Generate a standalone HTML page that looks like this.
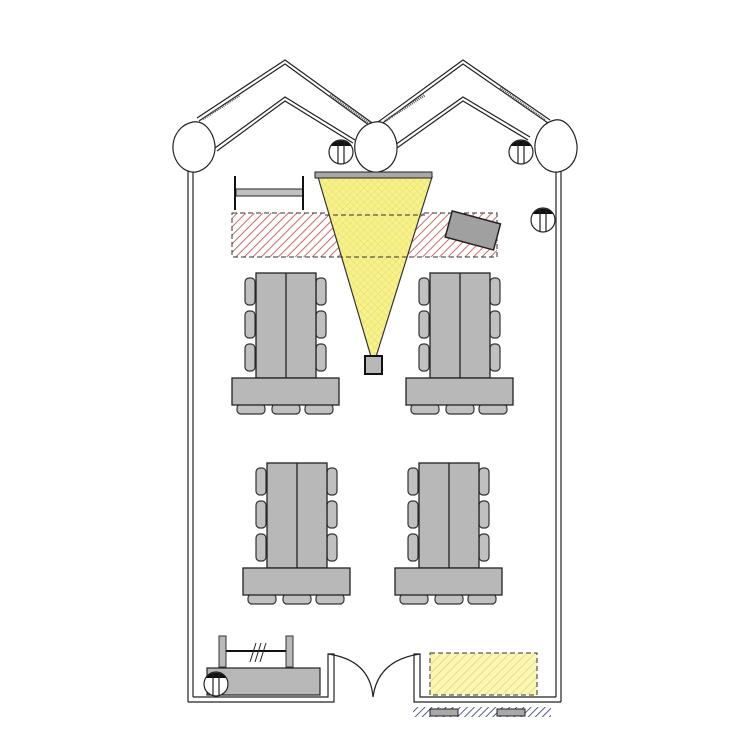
<!DOCTYPE html>
<html><head><style>html,body{margin:0;padding:0;background:#fff}svg{display:block}</style></head>
<body>
<svg width="750" height="750" viewBox="0 0 750 750" xmlns="http://www.w3.org/2000/svg">
<defs>
<pattern id="red" width="6" height="6" patternUnits="userSpaceOnUse" patternTransform="rotate(45)">
<rect width="6" height="6" fill="#fff"/><line x1="0" y1="0" x2="0" y2="6" stroke="#cc6a6a" stroke-width="2"/></pattern>
<pattern id="yel" width="5" height="5" patternUnits="userSpaceOnUse" patternTransform="rotate(45)">
<rect width="5" height="5" fill="#f8f28a"/><line x1="0" y1="0" x2="0" y2="5" stroke="#e6dc78" stroke-width="1"/><line x1="0" y1="0" x2="5" y2="0" stroke="#e6dc78" stroke-width="1"/></pattern>
<pattern id="yel2" width="6" height="6" patternUnits="userSpaceOnUse" patternTransform="rotate(45)">
<rect width="6" height="6" fill="#fbf6b0"/><line x1="0" y1="0" x2="0" y2="6" stroke="#ddd088" stroke-width="1.4"/></pattern>
<pattern id="blue" width="5" height="5" patternUnits="userSpaceOnUse" patternTransform="rotate(45)">
<rect width="5" height="5" fill="#fff"/><line x1="0" y1="0" x2="0" y2="5" stroke="#404a80" stroke-width="1.8"/></pattern>
<g id="chairV"><rect x="0" y="0" width="10" height="27" rx="4" fill="#c0c0c0" stroke="#333" stroke-width="1.2"/></g>
<g id="chairH"><rect x="0" y="0" width="28" height="10" rx="4" fill="#c0c0c0" stroke="#333" stroke-width="1.2"/></g>
<g id="tbl">
<use href="#chairV" x="13" y="5"/><use href="#chairV" x="13" y="38"/><use href="#chairV" x="13" y="71"/>
<use href="#chairV" x="84" y="5"/><use href="#chairV" x="84" y="38"/><use href="#chairV" x="84" y="71"/>
<use href="#chairH" x="5" y="131"/><use href="#chairH" x="40" y="131"/><use href="#chairH" x="73" y="131"/>
<rect x="24" y="0" width="60" height="105" fill="#b8b8b8" stroke="#222" stroke-width="1.3"/>
<line x1="54" y1="0" x2="54" y2="105" stroke="#222" stroke-width="1.3"/>
<rect x="0" y="105" width="107" height="27" fill="#b8b8b8" stroke="#222" stroke-width="1.3"/>
</g>
<g id="lamp"><circle cx="0" cy="0" r="12" fill="#fff" stroke="#222" stroke-width="1.2"/>
<path d="M-10,-6 A12,12 0 0 1 10,-6 Z" fill="#111"/>
<line x1="-3" y1="-10" x2="-3" y2="12" stroke="#222" stroke-width="1.2"/><line x1="3" y1="-10" x2="3" y2="12" stroke="#222" stroke-width="1.2"/></g>
</defs>

<g fill="none" stroke="#222" stroke-width="1.2">
<line x1="188" y1="170" x2="188" y2="702"/><line x1="193" y1="172" x2="193" y2="697"/>
<line x1="561" y1="170" x2="561" y2="702"/><line x1="556" y1="172" x2="556" y2="697"/>
<polyline points="188,702 334,702 334,654 328,654 328,697 193,697"/>
<polyline points="561,702 414,702 414,654 420,654 420,697 556,697"/>
<path d="M328,654 Q370,660 373,697"/><path d="M420,654 Q378,660 373,697"/>
<polyline points="197,118 285,60 375,125"/><polyline points="199,121 285,64 373,128"/>
<polyline points="215,148 285,97 355,140"/><polyline points="217,151 285,101 353,143"/>
<polyline points="378,122 463,60 550,120"/><polyline points="380,125 463,64 548,123"/>
<polyline points="395,145 463,97 530,137"/><polyline points="397,148 463,101 528,140"/>
</g>
<g stroke="#555" stroke-width="2.5" fill="none" stroke-dasharray="1,1">
<line x1="203" y1="119" x2="240" y2="95"/><line x1="330" y1="95" x2="370" y2="124"/>
<line x1="385" y1="121" x2="425" y2="95"/><line x1="500" y1="88" x2="545" y2="120"/>
</g>
<g fill="#fff" stroke="#222" stroke-width="1.2">
<path d="M193,122 C178,125 170,140 174,155 C178,168 188,173 196,172 C206,170 216,160 215,145 C213,130 203,120 193,122 Z"/>
<path d="M375,122 C358,125 352,142 356,156 C360,168 370,173 378,172 C390,170 398,160 397,145 C395,130 385,120 375,122 Z"/>
<path d="M555,120 C540,123 532,140 536,155 C540,168 550,173 558,172 C570,170 578,160 577,145 C575,130 565,118 555,120 Z"/>
</g>
<use href="#lamp" x="341" y="152"/><use href="#lamp" x="521" y="152"/><use href="#lamp" x="543" y="220"/>

<rect x="236" y="189" width="67" height="7" fill="#c0c0c0" stroke="#222"/>
<line x1="235" y1="176" x2="235" y2="210" stroke="#111" stroke-width="2"/>
<line x1="303" y1="176" x2="303" y2="210" stroke="#111" stroke-width="2"/>

<rect x="232" y="213" width="265" height="44" fill="url(#red)" stroke="#333" stroke-dasharray="5,3"/>
<rect x="448" y="217" width="50" height="27" fill="#a0a0a0" stroke="#222" stroke-width="1.5" transform="rotate(15 473 230)"/>

<polygon points="318,177 432,177 375,360 372,360" fill="url(#yel)" stroke="#333" stroke-width="1.2"/>
<rect x="315" y="172" width="117" height="6" fill="#a8a8a8" stroke="#222"/>
<line x1="325" y1="215" x2="425" y2="215" stroke="#333" stroke-dasharray="5,3"/>
<line x1="338" y1="257" x2="412" y2="257" stroke="#333" stroke-dasharray="5,3"/>
<rect x="365" y="356" width="17" height="18" fill="#b8b8b8" stroke="#111" stroke-width="2"/>

<use href="#tbl" x="232" y="273"/><use href="#tbl" x="406" y="273"/>
<use href="#tbl" x="243" y="463"/><use href="#tbl" x="395" y="463"/>

<rect x="219" y="636" width="7" height="31" fill="#b8b8b8" stroke="#333"/>
<rect x="286" y="636" width="7" height="31" fill="#b8b8b8" stroke="#333"/>
<line x1="226" y1="651" x2="286" y2="651" stroke="#111" stroke-width="2"/>
<g stroke="#222"><line x1="250" y1="662" x2="256" y2="643"/><line x1="255" y1="662" x2="261" y2="643"/><line x1="260" y1="662" x2="266" y2="643"/></g>
<rect x="207" y="668" width="113" height="27" fill="#b8b8b8" stroke="#222" stroke-width="1.2"/>
<use href="#lamp" x="216" y="684"/>

<rect x="430" y="653" width="107" height="42" fill="url(#yel2)" stroke="#333" stroke-dasharray="5,3"/>
<rect x="413" y="707" width="138" height="10" fill="url(#blue)"/>
<rect x="430" y="709" width="28" height="7" fill="#a8a8a8" stroke="#222"/>
<rect x="497" y="709" width="28" height="7" fill="#a8a8a8" stroke="#222"/>
</svg>
</body></html>
